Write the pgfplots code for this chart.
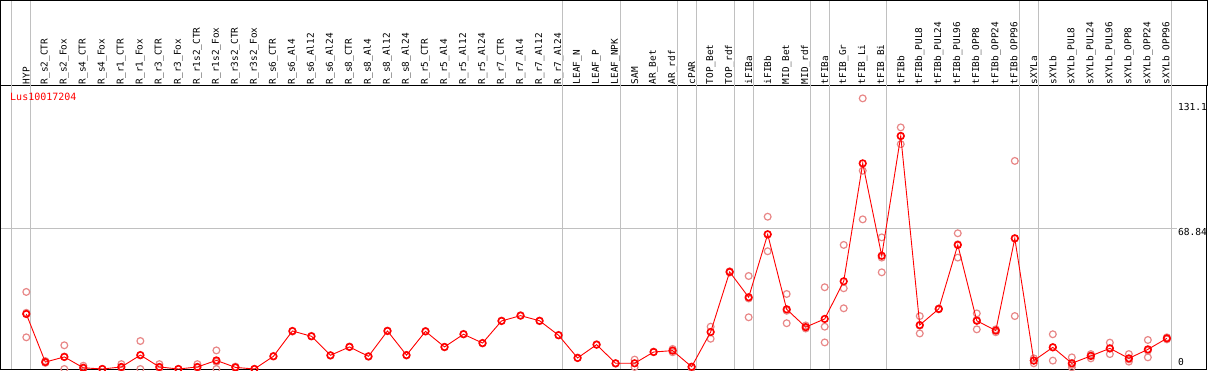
\documentclass[border=0pt]{standalone}
\usepackage{pgfplots}
\pgfplotsset{compat=1.18}
\usepackage{pgfplotstable}
\usepackage{fontspec}
\setmonofont{DejaVu Sans Mono}
\definecolor{rep}{RGB}{232,135,135}
\definecolor{sepgray}{RGB}{192,192,192}
\definecolor{pred}{RGB}{255,0,0}

\pgfplotstableread{
x y
0 26.9
1 3.4
2 5.9
3 0.6
4 0.0
5 1.0
6 6.8
7 1.0
8 0.0
9 1.0
10 4.2
11 0.8
12 0.0
13 6.2
14 18.6
15 16.0
16 6.7
17 10.8
18 6.2
19 18.6
20 6.8
21 18.4
22 10.8
23 17.0
24 12.7
25 23.5
26 26.1
27 23.6
28 16.5
29 5.4
30 11.9
31 2.8
32 2.8
33 8.3
34 9.0
35 1.1
36 18.1
37 47.5
38 35.1
39 65.9
40 29.2
41 20.5
42 24.5
43 42.9
44 100.6
45 55.4
46 114.0
47 21.5
48 29.4
49 60.7
50 23.6
51 18.8
52 63.9
53 4.1
54 10.6
55 2.8
56 6.4
57 10.1
58 5.2
59 9.6
60 15.0
}\meantab

\pgfplotstableread{
x y
0 37.7
0 15.5
0 27.5
1 3.9
1 3.0
2 11.6
2 0.0
2 6.1
3 1.6
3 0.2
4 0.0
5 2.4
5 0.5
6 13.7
6 0.0
6 6.7
7 2.4
7 0.5
8 0.0
9 2.4
9 0.6
10 9.1
10 0.0
10 3.5
11 1.2
11 0.6
12 0.0
13 6.4
14 18.3
15 16.2
16 6.5
17 11.0
18 6.0
19 18.8
20 6.6
21 18.6
22 10.6
23 17.2
24 12.5
25 23.7
26 26.3
27 23.4
28 16.7
29 5.6
30 12.1
31 2.6
32 4.6
32 1.0
33 8.5
34 9.8
34 8.2
35 1.0
35 0.5
36 20.7
36 14.8
37 47.8
37 47.2
38 45.5
38 25.3
38 34.5
39 74.5
39 57.6
39 65.8
40 36.7
40 22.4
40 28.5
41 21.3
41 19.8
42 40.0
42 20.7
42 13.0
43 60.7
43 39.5
43 29.7
44 132.4
44 97.0
44 73.2
45 64.4
45 47.3
45 54.5
46 118.2
46 110.0
46 114.0
47 25.9
47 17.4
47 21.2
48 29.6
48 29.2
49 66.4
49 54.5
49 61.0
50 27.2
50 19.4
50 24.0
51 19.4
51 18.0
52 101.8
52 25.9
52 64.0
53 5.2
53 2.8
53 4.2
54 17.0
54 4.1
54 10.7
55 5.7
55 0.8
55 2.0
56 7.3
56 5.2
56 6.6
57 12.9
57 7.3
57 10.0
58 7.3
58 3.6
58 4.7
59 14.2
59 5.7
59 9.0
60 15.5
60 14.5
}\reptab

\begin{document}
\begin{tikzpicture}
\begin{axis}[
  at={(0,0)}, anchor=south west,
  scale only axis, width=1206pt, height=283pt,
  xmin=-1.331, xmax=62.11, ymin=0, ymax=138.45,
  axis line style={black, line width=1pt},
  clip mode=individual,
  ytick=\empty,
  xtick={0,...,60},
  major tick length=0pt,
  xticklabel pos=upper,
  xticklabel style={rotate=90, anchor=west, inner sep=1.6pt,
    font=\ttfamily\fontsize{9.4}{9.4}\selectfont},
  xticklabels={HYP,R\_s2\_CTR,R\_s2\_Fox,R\_s4\_CTR,R\_s4\_Fox,R\_r1\_CTR,R\_r1\_Fox,R\_r3\_CTR,R\_r3\_Fox,R\_r1s2\_CTR,R\_r1s2\_Fox,R\_r3s2\_CTR,R\_r3s2\_Fox,R\_s6\_CTR,R\_s6\_Al4,R\_s6\_Al12,R\_s6\_Al24,R\_s8\_CTR,R\_s8\_Al4,R\_s8\_Al12,R\_s8\_Al24,R\_r5\_CTR,R\_r5\_Al4,R\_r5\_Al12,R\_r5\_Al24,R\_r7\_CTR,R\_r7\_Al4,R\_r7\_Al12,R\_r7\_Al24,LEAF\_N,LEAF\_P,LEAF\_NPK,SAM,AR\_Bet,AR\_rdf,cPAR,TOP\_Bet,TOP\_rdf,iFIBa,iFIBb,MID\_Bet,MID\_rdf,tFIBa,tFIB\_Gr,tFIB\_Li,tFIB\_Bi,tFIBb,tFIBb\_PUL8,tFIBb\_PUL24,tFIBb\_PUL96,tFIBb\_OPP8,tFIBb\_OPP24,tFIBb\_OPP96,sXYLa,sXYLb,sXYLb\_PUL8,sXYLb\_PUL24,sXYLb\_PUL96,sXYLb\_OPP8,sXYLb\_OPP24,sXYLb\_OPP96},
]
\pgfplotsinvokeforeach{-0.77,0.23,28.23,31.23,34.23,35.23,37.23,38.23,41.23,42.23,45.23,52.23,53.23,60.23}{
  \draw[sepgray, line width=0.9pt] (axis cs:#1,0) -- (axis cs:#1,180.3);
}
\draw[sepgray, line width=0.9pt] (axis cs:-1.331,68.84) -- (axis cs:60.53,68.84);

\addplot[only marks, mark=o, mark size=3.4pt, rep, mark options={line width=1.2pt}] table[x=x,y=y] {\reptab};
\addplot[pred, line width=0.9pt, mark=o, mark size=3.3pt, mark options={line width=1.6pt, solid}] table[x=x,y=y] {\meantab};

\node[anchor=west, inner sep=0pt, text=pred, font=\ttfamily\fontsize{10}{10}\selectfont] at (axis cs:-0.857,133.1) {Lus10017204};
\node[anchor=west, inner sep=0pt, font=\ttfamily\fontsize{9.6}{9.6}\selectfont] at (axis cs:60.58,128.2) {131.1};
\node[anchor=west, inner sep=0pt, font=\ttfamily\fontsize{9.6}{9.6}\selectfont] at (axis cs:60.58,67.2) {68.84};
\node[anchor=west, inner sep=0pt, font=\ttfamily\fontsize{9.6}{9.6}\selectfont] at (axis cs:60.58,3.6) {0};
\end{axis}
\draw[black, line width=1pt] (0,283pt) -- (0,368.5pt) -- (1206pt,368.5pt) -- (1206pt,283pt);
\pgfresetboundingbox
\path (-1pt,-1pt) rectangle (1208pt,369pt);
\end{tikzpicture}
\end{document}
